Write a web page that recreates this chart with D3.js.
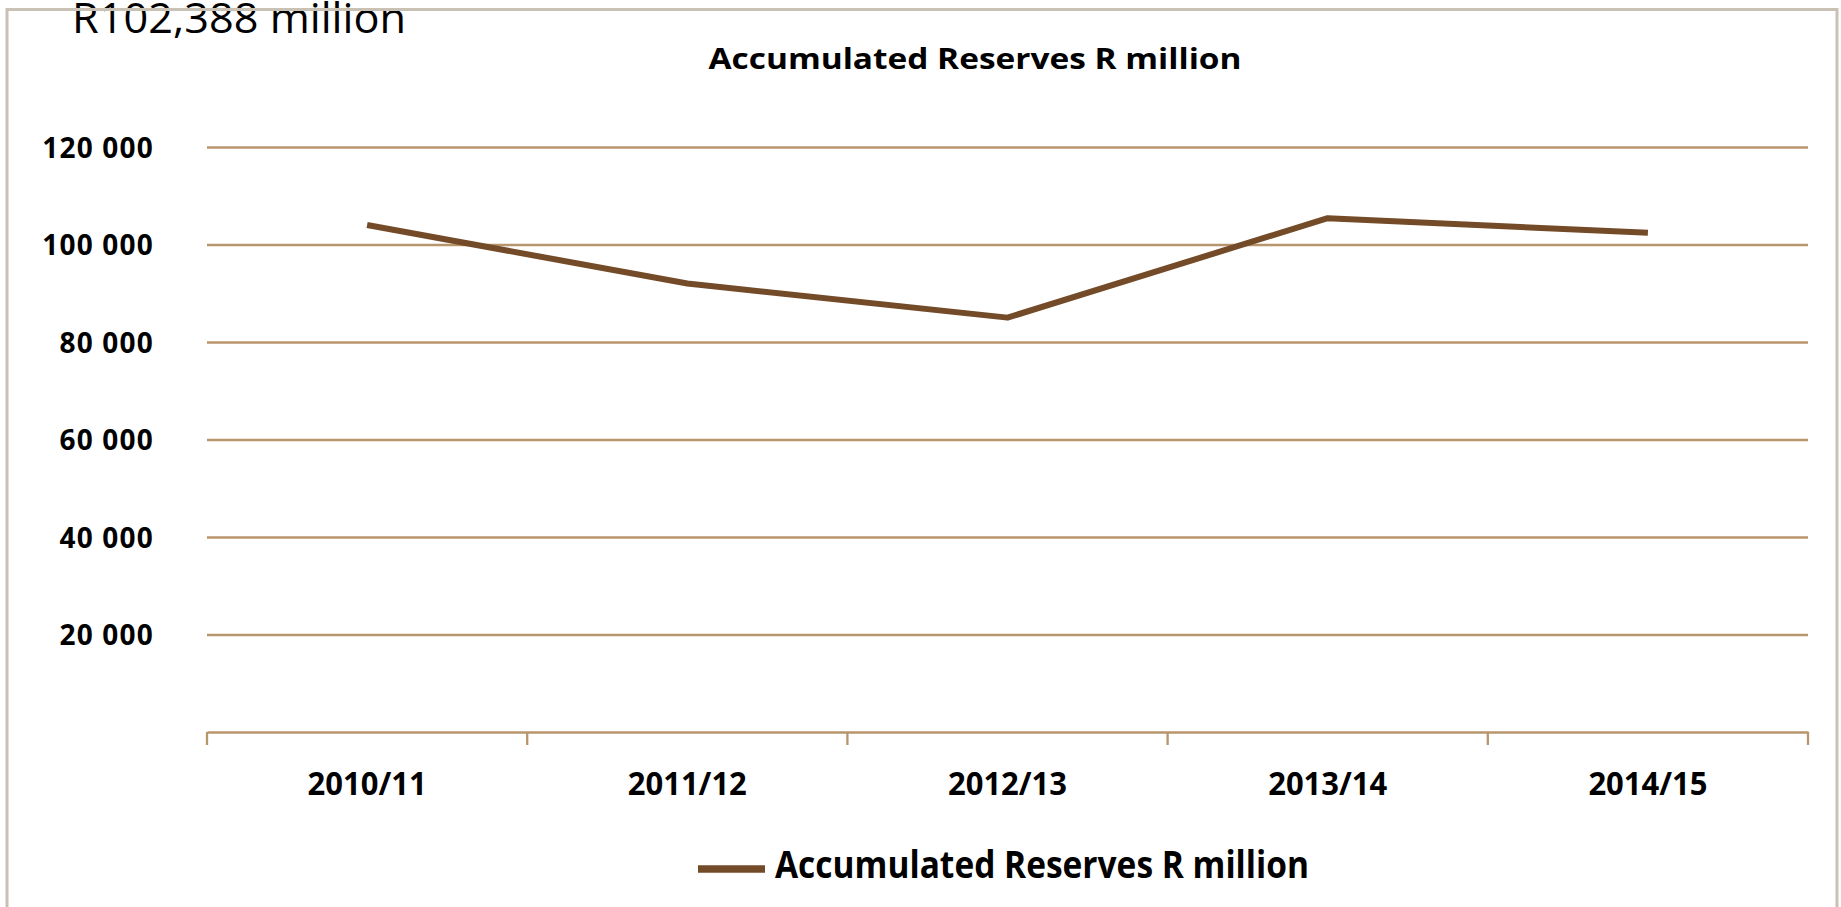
<!DOCTYPE html>
<html>
<head>
<meta charset="utf-8">
<script src="https://cdn.jsdelivr.net/npm/d3@7"></script>
<style>
body { margin: 0; background: #fff; }
svg { display: block; font-family: 'Open Sans', sans-serif; }
</style>
</head>
<body>
<div id="chart"></div>
<script>
'use strict';

// values (R million)
var categories = ['2010/11', '2011/12', '2012/13', '2013/14', '2014/15'];
var reserves = [104000, 92000, 85000, 105400, 102388];
var yTicks = [20000, 40000, 60000, 80000, 100000, 120000];
var seriesName = 'Accumulated Reserves R million';
var headline = 'R102,388 million';

var W = 1841, H = 907;
var plot = { left: 207, right: 1808, top: 147, bottom: 732 };
var colors = { line: '#744b28', grid: '#b9956d', frame: '#c9c1b3', text: '#000' };

var svg = d3.select('#chart').append('svg')
    .attr('width', W)
    .attr('height', H);

var x = d3.scaleBand().domain(categories).range([plot.left, plot.right]);
var y = d3.scaleLinear().domain([0, 120000]).range([plot.bottom, plot.top]);

// gridlines + y labels
var yAxis = d3.axisLeft(y)
    .tickValues(yTicks)
    .tickSize(-(plot.right - plot.left))
    .tickPadding(53)
    .tickFormat(function (d) { return d3.format(',')(d).replace(',', ' '); });

var yg = svg.append('g')
    .attr('transform', 'translate(' + plot.left + ',0)')
    .call(yAxis);
yg.select('.domain').remove();
yg.selectAll('.tick line').attr('stroke', colors.grid).attr('stroke-width', 2.3);
yg.selectAll('.tick text')
    .attr('fill', colors.text)
    .style('font-size', '28px')
    .style('font-weight', 'bold')
    .style('font-family', "'Open Sans', sans-serif")
    .attr('letter-spacing', 1.2)
    .attr('dy', '0.36em');

// x axis: labels at band centres, ticks at band edges
var xAxis = d3.axisBottom(x).tickSize(0).tickPadding(0);
var xg = svg.append('g')
    .attr('transform', 'translate(0,' + plot.bottom + ')')
    .call(xAxis);
xg.select('.domain').attr('stroke', colors.grid).attr('stroke-width', 2.6);
xg.selectAll('.tick text')
    .attr('fill', colors.text)
    .attr('y', 51)
    .attr('dy', '0.36em')
    .attr('textLength', 119)
    .attr('lengthAdjust', 'spacingAndGlyphs')
    .style('font-size', '32px')
    .style('font-weight', 'bold')
    .style('font-family', "'Open Sans', sans-serif");

var edges = categories.map(function (c) { return x(c); }).concat([x.range()[1]]);
xg.selectAll('.edge')
    .data(edges)
    .enter().append('line')
    .attr('class', 'edge')
    .attr('x1', function (d) { return d; })
    .attr('x2', function (d) { return d; })
    .attr('y1', 0)
    .attr('y2', 13)
    .attr('stroke', colors.grid)
    .attr('stroke-width', 2.3);

// series line
var line = d3.line()
    .x(function (d, i) { return x(categories[i]) + x.bandwidth() / 2; })
    .y(function (d) { return y(d); });

svg.append('path')
    .datum(reserves)
    .attr('fill', 'none')
    .attr('stroke', colors.line)
    .attr('stroke-width', 6)
    .attr('stroke-linejoin', 'round')
    .attr('d', line);

// title
svg.append('text')
    .attr('x', 975)
    .attr('y', 69)
    .attr('text-anchor', 'middle')
    .attr('textLength', 533)
    .attr('lengthAdjust', 'spacingAndGlyphs')
    .style('font-size', '29px')
    .style('font-weight', 'bold')
    .text(seriesName);

// legend
svg.append('line')
    .attr('x1', 698).attr('x2', 765)
    .attr('y1', 869).attr('y2', 869)
    .attr('stroke', colors.line)
    .attr('stroke-width', 7.5);
svg.append('text')
    .attr('x', 775)
    .attr('y', 878)
    .attr('textLength', 534)
    .attr('lengthAdjust', 'spacingAndGlyphs')
    .style('font-size', '37px')
    .style('font-weight', 'bold')
    .text(seriesName);

// headline that sits over the top border
svg.append('text')
    .attr('x', 72)
    .attr('y', 33)
    .attr('textLength', 334)
    .attr('lengthAdjust', 'spacingAndGlyphs')
    .style('font-size', '42px')
    .text(headline);

// chart frame (bottom edge runs off the page)
svg.append('rect')
    .attr('x', 7)
    .attr('y', 9.5)
    .attr('width', 1830)
    .attr('height', 2000)
    .attr('fill', 'none')
    .attr('stroke', colors.frame)
    .attr('stroke-width', 3);
</script>
</body>
</html>
